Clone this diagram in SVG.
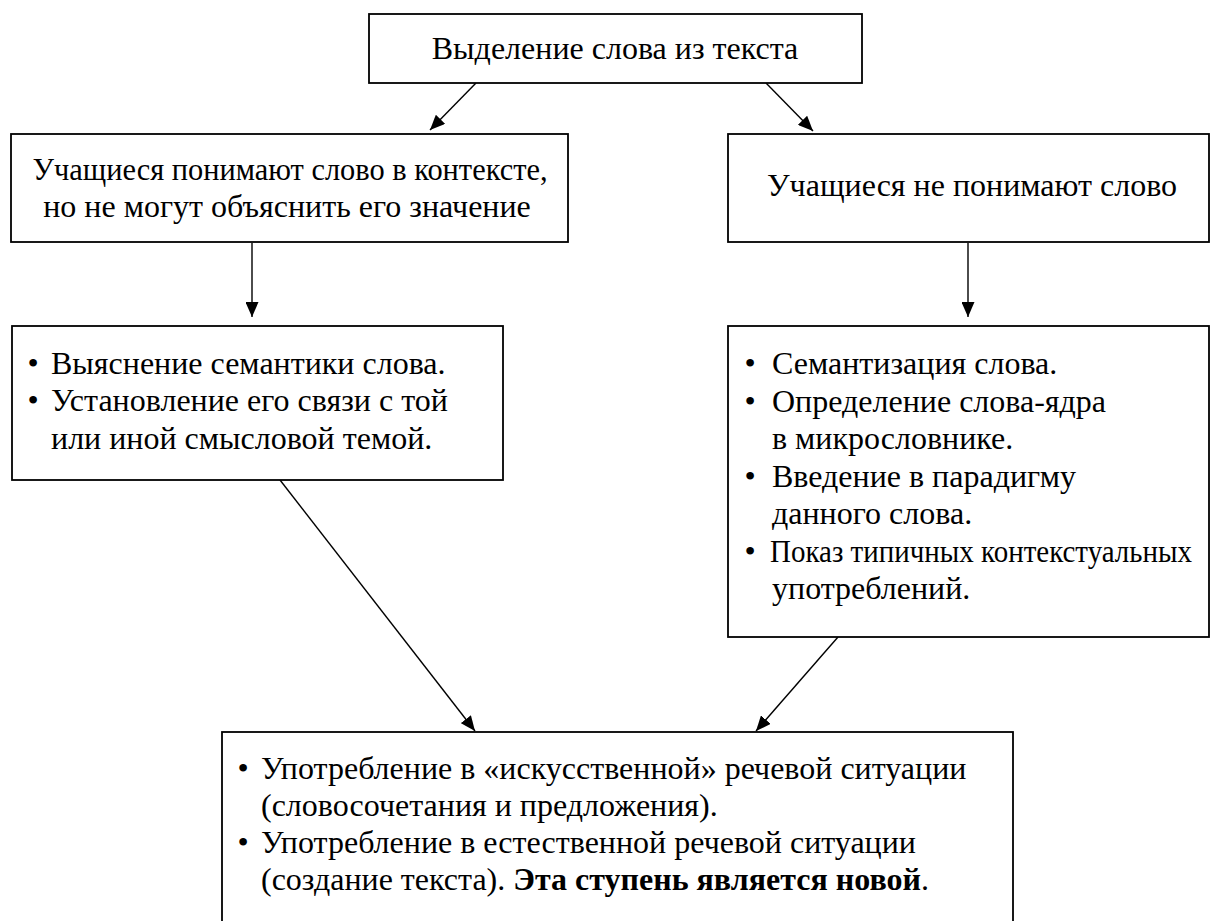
<svg xmlns="http://www.w3.org/2000/svg" width="1211" height="921" viewBox="0 0 1211 921">
<defs>
<marker id="ah" viewBox="0 0 15 13" refX="15" refY="6.5" markerWidth="15" markerHeight="13" markerUnits="userSpaceOnUse" orient="auto">
<path d="M0,0 L15,6.5 L0,13 Z" fill="#000"/>
</marker>
<style>
.box{fill:#fff;stroke:#000;stroke-width:1.8}
.ln{stroke:#000;stroke-width:1.4;fill:none;marker-end:url(#ah)}
.t{font-family:"Liberation Serif","Times New Roman",serif;font-size:32px;fill:#000}
.c{text-anchor:middle}
.b{font-weight:bold}
</style>
</defs>
<rect width="1211" height="921" fill="#fff"/>
<g id="connectors">
<line class="ln" x1="476" y1="83" x2="430" y2="130"/>
<line class="ln" x1="766" y1="83" x2="813" y2="131"/>
<line class="ln" x1="252" y1="243" x2="252" y2="317"/>
<line class="ln" x1="968" y1="243" x2="968" y2="317"/>
<line class="ln" x1="280" y1="480" x2="475" y2="731"/>
<line class="ln" x1="838" y1="637" x2="756" y2="731"/>
</g>
<g id="n1">
<rect class="box" x="369" y="14" width="493" height="69"/>
<text class="t c" x="615" y="59">Выделение слова из текста</text>
</g>
<g id="n2">
<rect class="box" x="11" y="134" width="557" height="108"/>
<text class="t c" x="290" y="180" textLength="515" lengthAdjust="spacingAndGlyphs">Учащиеся понимают слово в контексте,</text>
<text class="t c" x="287" y="217">но не могут объяснить его значение</text>
</g>
<g id="n3">
<rect class="box" x="728" y="134" width="481" height="108"/>
<text class="t c" x="972" y="196">Учащиеся не понимают слово</text>
</g>
<g id="n4">
<rect class="box" x="12" y="326" width="491" height="154"/>
<text class="t c" x="33" y="374">•</text>
<text class="t" x="51" y="374">Выяснение семантики слова.</text>
<text class="t c" x="33" y="411">•</text>
<text class="t" x="51" y="411">Установление его связи с той</text>
<text class="t" x="51" y="449">или иной смысловой темой.</text>
</g>
<g id="n5">
<rect class="box" x="728" y="326" width="481" height="311"/>
<text class="t c" x="750" y="374">•</text>
<text class="t" x="772" y="374">Семантизация слова.</text>
<text class="t c" x="750" y="412">•</text>
<text class="t" x="772" y="412">Определение слова-ядра</text>
<text class="t" x="772" y="449">в микрословнике.</text>
<text class="t c" x="750" y="487">•</text>
<text class="t" x="772" y="487">Введение в парадигму</text>
<text class="t" x="772" y="524">данного слова.</text>
<text class="t c" x="750" y="562">•</text>
<text class="t" x="770" y="562" textLength="422" lengthAdjust="spacingAndGlyphs">Показ типичных контекстуальных</text>
<text class="t" x="772" y="599">употреблений.</text>
</g>
<g id="n6">
<rect class="box" x="222" y="732" width="791" height="210"/>
<text class="t c" x="243" y="779">•</text>
<text class="t" x="261" y="779">Употребление в «искусственной» речевой ситуации</text>
<text class="t" x="261" y="816">(словосочетания и предложения).</text>
<text class="t c" x="243" y="853">•</text>
<text class="t" x="261" y="853">Употребление в естественной речевой ситуации</text>
<text class="t" x="261" y="890">(создание текста). <tspan class="b">Эта ступень является новой</tspan>.</text>
</g>
</svg>
